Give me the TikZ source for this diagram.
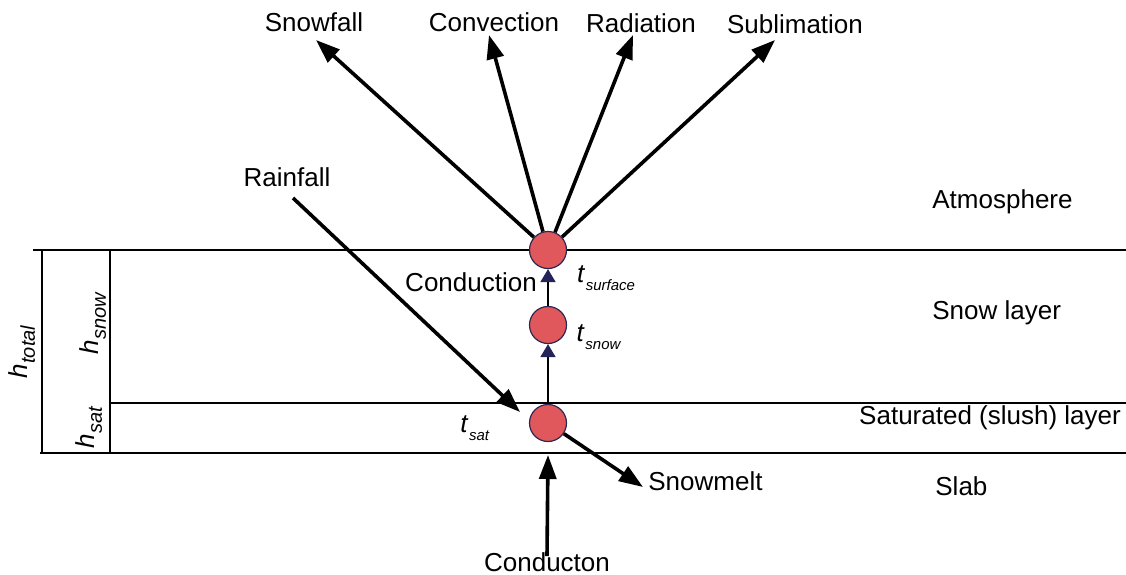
\documentclass[tikz,border=0pt]{standalone}
\usepackage{fontspec}
\setmainfont{Liberation Sans}
\usetikzlibrary{arrows.meta}
\definecolor{ballred}{RGB}{224,88,92}
\definecolor{ballrim}{RGB}{45,40,80}
\definecolor{headblue}{RGB}{35,35,90}
\newcommand\hvar[2]{\textit{#1}\kern0.3pt\raisebox{-0.5ex}{\fontsize{10}{11}\selectfont\textit{#2}}}
\newcommand\tvar[2]{\textit{#1}\kern0.3pt\raisebox{-0.6ex}{\fontsize{7.5}{8}\selectfont\textit{#2}}}
\begin{document}
\begin{tikzpicture}[x=0.5pt,y=-0.5pt,
  lbl/.style={inner sep=0pt, font=\fontsize{13}{15}\selectfont},
  ball/.style={circle, fill=ballred, draw=ballrim, line width=0.6pt, minimum size=18.5pt, inner sep=0pt},
  flux/.style={line width=1.8pt, -{Triangle[length=12pt,width=8.5pt]}},
  cond/.style={line width=0.9pt, -{Triangle[length=6.5pt,width=7.5pt,color=headblue]}},
  layer/.style={line width=1.2pt}]
\useasboundingbox (0,0) rectangle (1126,574);
% layers and brackets
\draw[layer] (33,250) -- (1126,250);
\draw[layer] (110,403) -- (1126,403);
\draw[layer] (40,453) -- (1126,453);
\draw[layer] (42,250) -- (42,453);
\draw[layer] (110,250) -- (110,453);
% thickness labels
\node[lbl, rotate=90] (htot) at (22,352) {\hvar{h}{total}};
\node[lbl, rotate=90] (hsnow) at (93,323) {\hvar{h}{snow}};
\node[lbl, rotate=90] (hsat) at (89,427) {\hvar{h}{sat}};
% temperature nodes
\node[ball] (tsurf) at (548,250) {};
\node[ball] (tsnow) at (548,325) {};
\node[ball] (tsat) at (548,423) {};
\node[lbl] (lsurf) at (606,278) {\tvar{t}{surface}};
\node[lbl] (lsnow) at (599,337) {\tvar{t}{snow}};
\node[lbl] (lsat) at (475,428) {\tvar{t}{sat}};
% flux labels
\node[lbl] (snowfall) at (314,22) {Snowfall};
\node[lbl] (convection) at (494,22) {Convection};
\node[lbl] (radiation) at (641,23) {Radiation};
\node[lbl] (sublimation) at (795,24) {Sublimation};
\node[lbl] (rainfall) at (287,177) {Rainfall};
\node[lbl] (condin) at (471,282) {Conduction};
\node[lbl, anchor=west] (snowmelt) at (648,481) {Snowmelt};
\node[lbl] (condbot) at (547,562) {Conducton};
% layer labels
\node[lbl, anchor=west] (atm) at (932,202) {Atmosphere};
\node[lbl, anchor=west] (snowlayer) at (932,313) {Snow layer};
\node[lbl] (slush) at (990,418) {Saturated (slush) layer};
\node[lbl, anchor=west] (slab) at (935,486) {Slab};
% arrow end points
\coordinate (sfTip) at (316,40);
\coordinate (cvTip) at (489,35);
\coordinate (raTip) at (633,35);
\coordinate (suTip) at (775,40);
\coordinate (rainTail) at (293,198);
\coordinate (rainTip) at (520,412);
\coordinate (meltTip) at (643,487);
\coordinate (botTip) at (548,455);
% fluxes
\draw[flux] (tsurf) -- (sfTip);
\draw[flux] (tsurf) -- (cvTip);
\draw[flux] (tsurf) -- (raTip);
\draw[flux] (tsurf) -- (suTip);
\draw[flux] (rainTail) -- (rainTip);
\draw[flux] (tsat) -- (meltTip);
\draw[flux] ([yshift=-2pt]condbot.north) -- (botTip);
\draw[cond] (tsat) -- (tsnow);
\draw[cond] (tsnow) -- (tsurf);
\end{tikzpicture}
\end{document}
